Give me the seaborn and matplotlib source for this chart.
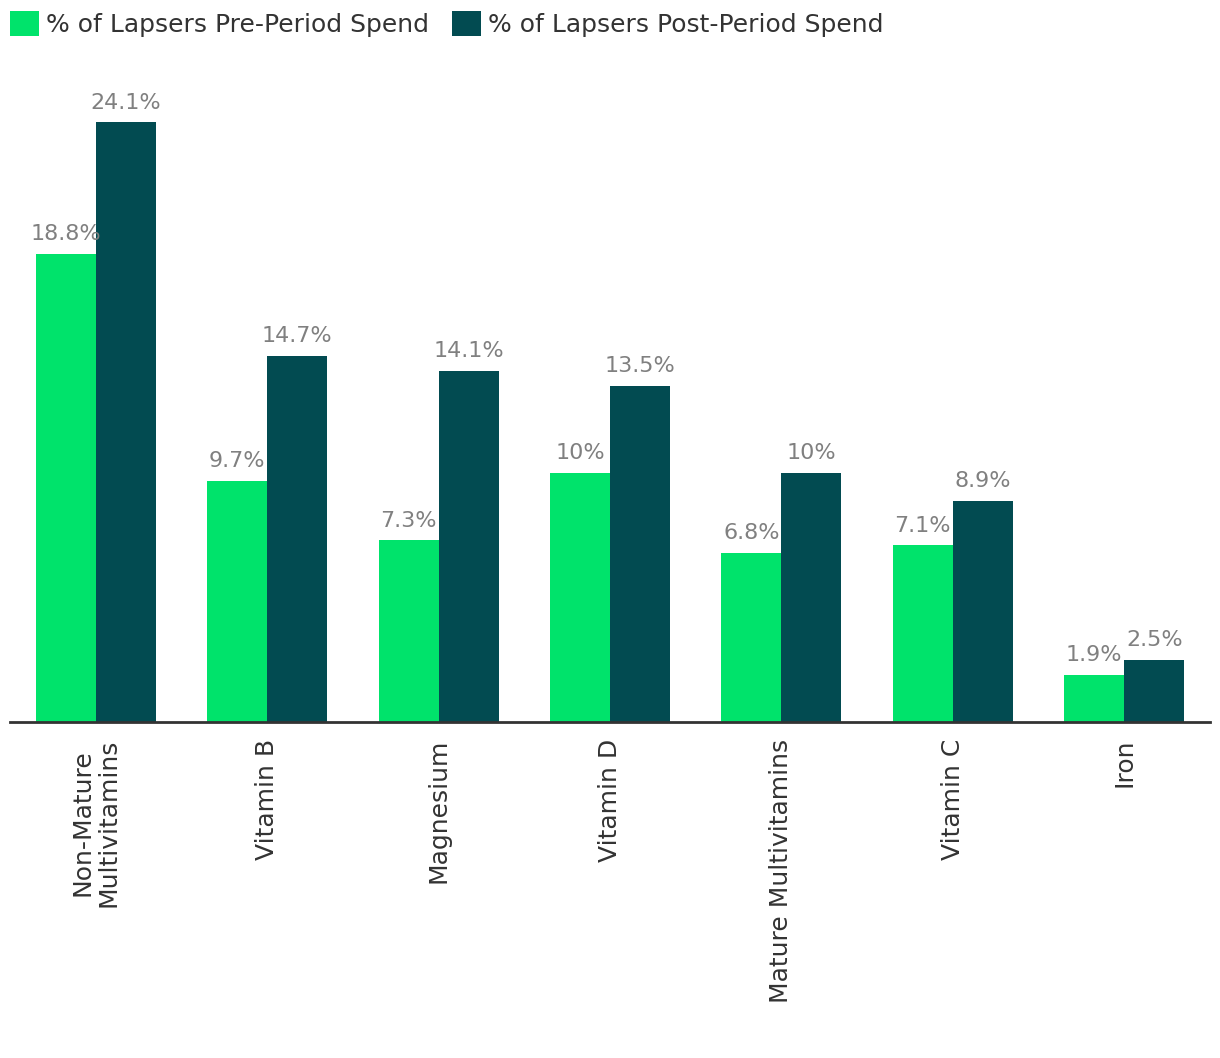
import matplotlib
matplotlib.use("Agg")
import matplotlib.pyplot as plt
import pandas as pd
import seaborn as sns

categories = ["Non-Mature\nMultivitamins", "Vitamin B", "Magnesium", "Vitamin D",
              "Mature Multivitamins", "Vitamin C", "Iron"]
pre_spend = [18.8, 9.7, 7.3, 10.0, 6.8, 7.1, 1.9]
post_spend = [24.1, 14.7, 14.1, 13.5, 10.0, 8.9, 2.5]
series = ["% of Lapsers Pre-Period Spend", "% of Lapsers Post-Period Spend"]
colors = ["#00E36B", "#024B51"]

df = pd.DataFrame({
    "category": categories * 2,
    "value": pre_spend + post_spend,
    "series": [series[0]] * len(categories) + [series[1]] * len(categories),
})

sns.set_theme(style="white")
plt.rcParams["font.family"] = ["DejaVu Sans"]

fig = plt.figure(figsize=(12.2, 10.58), dpi=100)
ax = fig.add_axes([10 / 1220, (1058 - 722) / 1058, 1200 / 1220, (722 - 70) / 1058])

sns.barplot(data=df, x="category", y="value", hue="series", hue_order=series,
            palette=colors, width=0.7, gap=0, saturation=1, linewidth=0, ax=ax)

for container in ax.containers:
    ax.bar_label(container, labels=[f"{v:g}%" for v in container.datavalues],
                 padding=7, fontsize=16, color="#808080")

ax.set_xlim(-0.5, 6.5)
ax.set_ylim(0, 26.2)
ax.set_xlabel("")
ax.set_ylabel("")
ax.set_yticks([])
ax.tick_params(axis="x", length=0, pad=12, labelsize=18, labelcolor="#333333")
for lbl in ax.get_xticklabels():
    lbl.set_rotation(90)
    lbl.set_va("top")
    lbl.set_ha("center")
    lbl.set_linespacing(1.1)
for side in ["top", "left", "right"]:
    ax.spines[side].set_visible(False)
ax.spines["bottom"].set_color("#333333")
ax.spines["bottom"].set_linewidth(2)

handles, labels = ax.get_legend_handles_labels()
ax.get_legend().remove()
fig.legend(handles, labels, loc="upper left", bbox_to_anchor=(10 / 1220, 1 - 11 / 1058),
           ncol=2, frameon=False, fontsize=18, labelcolor="#333333",
           handlelength=1.15, handleheight=1.15, handletextpad=0.3,
           columnspacing=0.9, borderpad=0, borderaxespad=0)

fig.savefig("out.png", dpi=100)
